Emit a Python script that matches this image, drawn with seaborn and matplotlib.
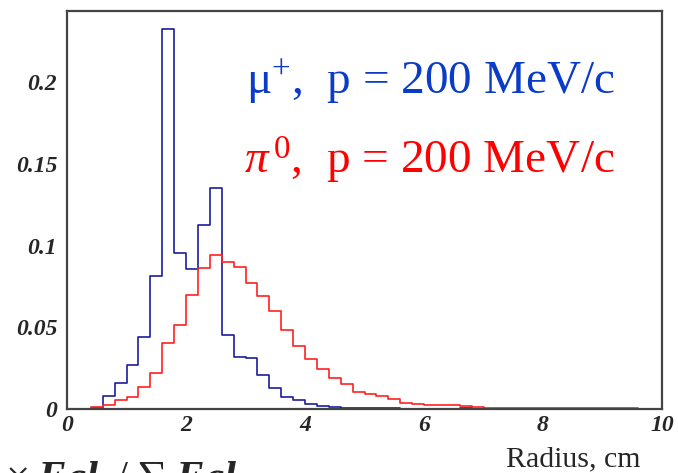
import numpy as np
import pandas as pd
import matplotlib
matplotlib.use("Agg")
import matplotlib.pyplot as plt
import seaborn as sns

# Radial profile, 0.2 cm bins from 0 to 10 cm
bin_edges = list(np.round(np.linspace(0, 10, 51), 2))

muon_frac = [0, 0, 0.0005, 0.008, 0.0157, 0.0269, 0.0443, 0.0814, 0.2324, 0.0957,
             0.0859, 0.1124, 0.1355, 0.0451, 0.0318, 0.0312, 0.0206, 0.0127, 0.0072, 0.0055,
             0.0032, 0.0020, 0.0013, 0.0006, 0.0005, 0.0005, 0.0004, 0.0004, 0.0003, 0.0003,
             0.0002, 0.0002, 0.0002, 0.0008, 0.0001, 0.0001, 0, 0, 0, 0,
             0, 0, 0, 0, 0, 0, 0, 0, 0, 0]

pion_frac = [0, 0, 0.0010, 0.0024, 0.0055, 0.0071, 0.0137, 0.0222, 0.0406, 0.0516,
             0.0696, 0.0863, 0.0942, 0.0901, 0.0871, 0.0769, 0.0692, 0.0602, 0.0484, 0.0388,
             0.0306, 0.0245, 0.0188, 0.0151, 0.0106, 0.0090, 0.0081, 0.0061, 0.0039, 0.0031,
             0.0024, 0.0024, 0.0024, 0.0018, 0.0014, 0.0005, 0.0005, 0.0005, 0.0005, 0.0005,
             0.0005, 0.0005, 0.0005, 0.0005, 0.0005, 0.0005, 0.0005, 0.0005, 0, 0]

x_ticks = [0, 2, 4, 6, 8, 10]
x_ticklabels = ["0", "2", "4", "6", "8", "10"]
y_ticks = [0, 0.05, 0.1, 0.15, 0.2]
y_ticklabels = ["0", "0.05", "0.1", "0.15", "0.2"]

centers = [(a + b) / 2 for a, b in zip(bin_edges[:-1], bin_edges[1:])]
mu_df = pd.DataFrame({"radius": centers, "frac": muon_frac})
pi_df = pd.DataFrame({"radius": centers, "frac": pion_frac})

sns.set_style("white")
plt.rcParams["font.family"] = ["Liberation Serif", "DejaVu Serif"]
plt.rcParams["mathtext.fontset"] = "custom"
plt.rcParams["mathtext.rm"] = "Liberation Serif"
plt.rcParams["mathtext.it"] = "Liberation Serif:italic"
plt.rcParams["mathtext.bf"] = "Liberation Serif:bold"
plt.rcParams["mathtext.bfit"] = "Liberation Serif:bold:italic"

fig = plt.figure(figsize=(6.78, 4.73), dpi=100)
ax = fig.add_axes([67 / 678, 64 / 473, 595 / 678, 398 / 473])

sns.histplot(data=mu_df, x="radius", weights="frac", bins=bin_edges,
             element="step", fill=False, color="#1c1ca0", linewidth=1.2, ax=ax)
sns.histplot(data=pi_df, x="radius", weights="frac", bins=bin_edges,
             element="step", fill=False, color="#ff2020", linewidth=1.2, ax=ax)

ax.set_xlim(0, 10)
ax.set_ylim(0, 0.2436)
ax.set_xticks(x_ticks)
ax.set_xticklabels(x_ticklabels)
ax.set_yticks(y_ticks)
ax.set_yticklabels(y_ticklabels)
ax.set_xlabel("")
ax.set_ylabel("")
for lab in ax.get_xticklabels() + ax.get_yticklabels():
    lab.set_fontweight("bold")
    lab.set_fontstyle("italic")
    lab.set_fontsize(17)
ax.tick_params(direction="in", length=9, width=1.2, color="#333333", pad=4)
ax.tick_params(axis="y", pad=7)
for sp in ax.spines.values():
    sp.set_linewidth(1.6)
    sp.set_color("#444444")

ax.text(0.921, 0.819, r"$\mathrm{\mu}^{+}$,  p = 200 MeV/c", transform=ax.transAxes,
        ha="right", va="center", fontsize=34, color="#0a3cc8")
ax.text(0.921, 0.625, r"$\mathit{\pi}^{\,\mathit{0}}$,  p = 200 MeV/c", transform=ax.transAxes,
        ha="right", va="center", fontsize=34, color="#ff0000")

fig.text(640 / 678, 7 / 473, "Radius, cm", ha="right", va="baseline", fontsize=21.5)
# cut-off title at the bottom edge, as in the original
fig.text(5 / 678, -17 / 473, r"$\times\;\mathbfit{Ecl}_{\mathbfit{i}}\;/\;\sum\;\mathbfit{Ecl}$",
         ha="left", va="baseline", fontsize=31)

fig.savefig("out.png", dpi=100)
